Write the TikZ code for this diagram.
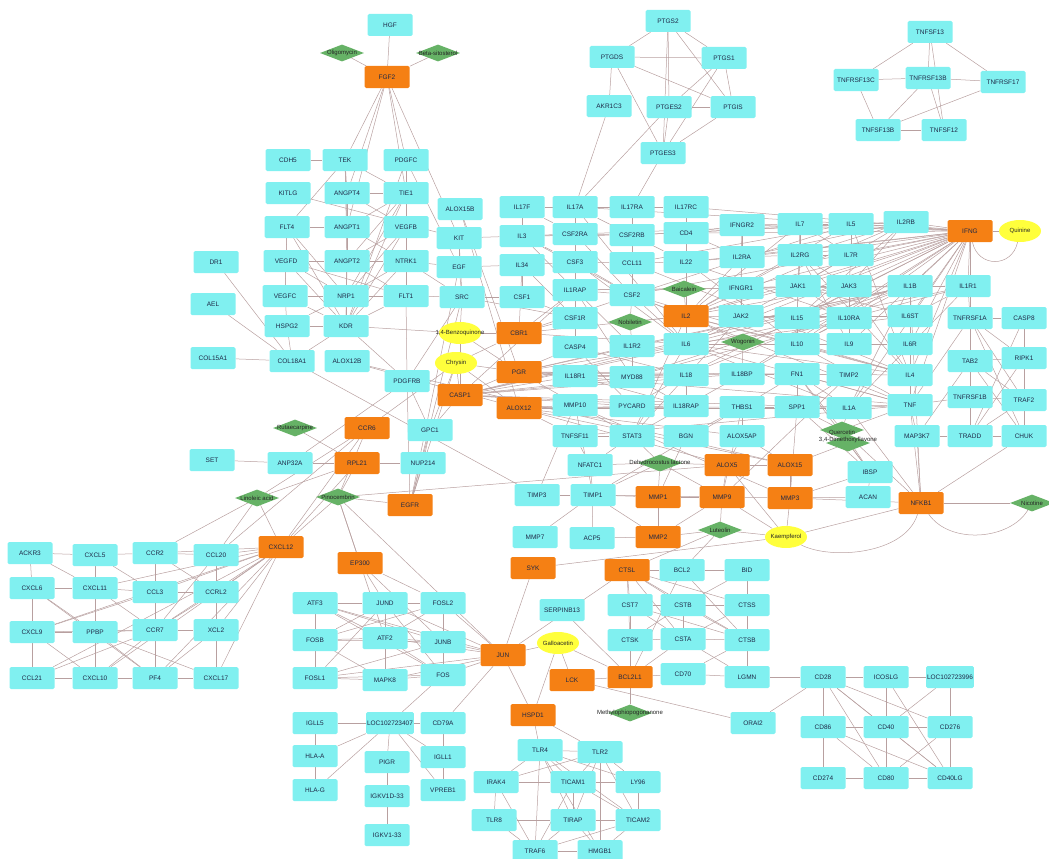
\documentclass[tikz,border=0pt]{standalone}
\usepackage{fontspec}
\setmainfont{Liberation Sans}
\usetikzlibrary{shapes.geometric}
\pgfdeclarelayer{bg}
\pgfsetlayers{bg,main}
\definecolor{cyn}{RGB}{128,240,240}
\definecolor{org}{RGB}{245,128,20}
\definecolor{grn}{RGB}{102,178,102}
\definecolor{yel}{RGB}{255,255,60}
\definecolor{edg}{RGB}{184,160,160}
\definecolor{txt}{RGB}{30,40,70}
\tikzset{
 cy/.style={rectangle,rounded corners=1.5pt,fill=cyn,minimum width=45pt,minimum height=22pt,inner sep=1pt,font=\fontsize{6.5}{7}\selectfont,text=txt},
 og/.style={cy,fill=org},
 dia/.style={diamond,fill=grn,minimum width=44pt,minimum height=17pt,inner sep=0pt},
 ell/.style={ellipse,fill=yel,minimum width=42pt,minimum height=22pt,inner sep=0pt},
 lab/.style={font=\fontsize{6}{7}\selectfont,text=black!85,inner sep=0pt},
 edge/.style={draw=edg,line width=0.5pt}
}
\begin{document}
\begin{tikzpicture}[x=1pt,y=-1pt]
\useasboundingbox (0,0) rectangle (1049,859);
% ---------- top ----------
\node[cy] (HGF) at (390,25) {HGF};
\node[dia] (Oligo) at (342,53) {};
\node[dia] (Betas) at (438,53) {};
\node[og] (FGF2) at (387,77) {FGF2};
\node[cy] (PTGS2) at (668,21) {PTGS2};
\node[cy] (PTGDS) at (612,57) {PTGDS};
\node[cy] (PTGS1) at (724,58) {PTGS1};
\node[cy] (AKR1C3) at (609,106) {AKR1C3};
\node[cy] (PTGES2) at (669,107) {PTGES2};
\node[cy] (PTGIS) at (733,107) {PTGIS};
\node[cy] (PTGES3) at (663,153) {PTGES3};
\node[cy] (TNFSF13) at (930,32) {TNFSF13};
\node[cy] (TNFRSF13C) at (856,80) {TNFRSF13C};
\node[cy] (TNFRSF13B) at (928,78) {TNFRSF13B};
\node[cy] (TNFRSF17) at (1003,82) {TNFRSF17};
\node[cy] (TNFSF13B) at (878,130) {TNFSF13B};
\node[cy] (TNFSF12) at (944,130) {TNFSF12};
% ---------- left angiogenesis ----------
\node[cy] (CDH5) at (288,160) {CDH5};
\node[cy] (TEK) at (345,160) {TEK};
\node[cy] (PDGFC) at (406,160) {PDGFC};
\node[cy] (KITLG) at (288,193) {KITLG};
\node[cy] (ANGPT4) at (347,193) {ANGPT4};
\node[cy] (TIE1) at (406,193) {TIE1};
\node[cy] (FLT4) at (287,227) {FLT4};
\node[cy] (ANGPT1) at (347,227) {ANGPT1};
\node[cy] (VEGFB) at (406,227) {VEGFB};
\node[cy] (VEGFD) at (286,261) {VEGFD};
\node[cy] (ANGPT2) at (347,261) {ANGPT2};
\node[cy] (NTRK1) at (406,261) {NTRK1};
\node[cy] (VEGFC) at (285,296) {VEGFC};
\node[cy] (NRP1) at (346,296) {NRP1};
\node[cy] (FLT1) at (406,296) {FLT1};
\node[cy] (HSPG2) at (287,326) {HSPG2};
\node[cy] (KDR) at (346,326) {KDR};
\node[cy] (DR1) at (216,262) {DR1};
\node[cy] (AEL) at (213,304) {AEL};
\node[cy] (COL15A1) at (213,358) {COL15A1};
\node[cy] (COL18A1) at (292,361) {COL18A1};
\node[cy] (ALOX12B) at (347,361) {ALOX12B};
\node[cy] (PDGFRB) at (407,381) {PDGFRB};
% ---------- middle-left columns ----------
\node[cy] (ALOX15B) at (460,209) {ALOX15B};
\node[cy] (KIT) at (459,238) {KIT};
\node[cy] (EGF) at (459,267) {EGF};
\node[cy] (SRC) at (462,297) {SRC};
\node[ell] (Benzo) at (460,333) {};
\node[ell] (Chrysin) at (456,363) {};
\node[og] (CASP1) at (460,395) {CASP1};
\node[cy] (IL17F) at (522,207) {IL17F};
\node[cy] (IL3) at (522,236) {IL3};
\node[cy] (IL34) at (522,265) {IL34};
\node[cy] (CSF1) at (522,297) {CSF1};
\node[og] (CBR1) at (519,333) {CBR1};
\node[og] (PGR) at (519,372) {PGR};
\node[og] (ALOX12) at (519,408) {ALOX12};
% ---------- big cluster ----------
\node[cy] (IL17A) at (575,207) {IL17A};
\node[cy] (CSF2RA) at (575,234) {CSF2RA};
\node[cy] (CSF3) at (575,262) {CSF3};
\node[cy] (IL1RAP) at (575,290) {IL1RAP};
\node[cy] (CSF1R) at (575,318) {CSF1R};
\node[cy] (CASP4) at (575,347) {CASP4};
\node[cy] (IL18R1) at (575,376) {IL18R1};
\node[cy] (MMP10) at (575,405) {MMP10};
\node[cy] (TNFSF11) at (575,436) {TNFSF11};
\node[cy] (IL17RA) at (632,207) {IL17RA};
\node[cy] (CSF2RB) at (632,235) {CSF2RB};
\node[cy] (CCL11) at (632,263) {CCL11};
\node[cy] (CSF2) at (632,295) {CSF2};
\node[dia] (Dc1) at (630,322) {};
\node[cy] (IL1R2) at (632,346) {IL1R2};
\node[cy] (MYD88) at (632,377) {MYD88};
\node[cy] (PYCARD) at (632,406) {PYCARD};
\node[cy] (STAT3) at (632,436) {STAT3};
\node[cy] (IL17RC) at (686,207) {IL17RC};
\node[cy] (CD4) at (686,233) {CD4};
\node[cy] (IL22) at (686,262) {IL22};
\node[dia] (Dc2) at (684,289) {};
\node[og] (IL2) at (686,316) {IL2};
\node[cy] (IL6) at (686,344) {IL6};
\node[cy] (IL18) at (686,375) {IL18};
\node[cy] (IL18RAP) at (686,406) {IL18RAP};
\node[cy] (BGN) at (686,436) {BGN};
\node[cy] (IFNGR2) at (742,225) {IFNGR2};
\node[cy] (IL2RA) at (742,257) {IL2RA};
\node[cy] (IFNGR1) at (741,288) {IFNGR1};
\node[cy] (JAK2) at (741,316) {JAK2};
\node[dia] (Dc3) at (743,342) {};
\node[cy] (IL18BP) at (742,374) {IL18BP};
\node[cy] (THBS1) at (742,407) {THBS1};
\node[cy] (ALOX5AP) at (742,436) {ALOX5AP};
\node[cy] (IL7) at (800,224) {IL7};
\node[cy] (IL2RG) at (800,255) {IL2RG};
\node[cy] (JAK1) at (798,286) {JAK1};
\node[cy] (IL15) at (797,318) {IL15};
\node[cy] (IL10) at (797,344) {IL10};
\node[cy] (FN1) at (797,374) {FN1};
\node[cy] (SPP1) at (797,407) {SPP1};
\node[cy] (IL5) at (851,224) {IL5};
\node[cy] (IL7R) at (851,255) {IL7R};
\node[cy] (JAK3) at (849,286) {JAK3};
\node[cy] (IL10RA) at (849,318) {IL10RA};
\node[cy] (IL9) at (849,344) {IL9};
\node[cy] (TIMP2) at (849,375) {TIMP2};
\node[cy] (IL1A) at (849,408) {IL1A};
\node[cy] (IL2RB) at (906,222) {IL2RB};
\node[cy] (IL1B) at (910,286) {IL1B};
\node[cy] (IL6ST) at (910,316) {IL6ST};
\node[cy] (IL6R) at (910,344) {IL6R};
\node[cy] (IL4) at (910,375) {IL4};
\node[cy] (TNF) at (910,405) {TNF};
\node[cy] (MAP3K7) at (917,436) {MAP3K7};
\node[og] (IFNG) at (970,231) {IFNG};
\node[cy] (IL1R1) at (968,286) {IL1R1};
\node[cy] (TNFRSF1A) at (970,318) {TNFRSF1A};
\node[cy] (TAB2) at (970,361) {TAB2};
\node[cy] (TNFRSF1B) at (970,397) {TNFRSF1B};
\node[cy] (TRADD) at (970,436) {TRADD};
\node[ell] (Quinine) at (1020,231) {};
\node[cy] (CASP8) at (1024,318) {CASP8};
\node[cy] (RIPK1) at (1024,358) {RIPK1};
\node[cy] (TRAF2) at (1024,400) {TRAF2};
\node[cy] (CHUK) at (1024,436) {CHUK};
\node[dia] (Querc) at (842,430) {};
\node[dia] (Dq2) at (848,443) {};
% ---------- MMP area ----------
\node[cy] (NFATC1) at (590,465) {NFATC1};
\node[dia] (Ddehy) at (660,463) {};
\node[og] (ALOX5) at (727,465) {ALOX5};
\node[og] (ALOX15) at (790,465) {ALOX15};
\node[cy] (IBSP) at (870,472) {IBSP};
\node[cy] (TIMP3) at (537,495) {TIMP3};
\node[cy] (TIMP1) at (593,495) {TIMP1};
\node[og] (MMP1) at (658,497) {MMP1};
\node[og] (MMP9) at (722,497) {MMP9};
\node[og] (MMP3) at (790,498) {MMP3};
\node[cy] (ACAN) at (868,497) {ACAN};
\node[og] (NFKB1) at (921,503) {NFKB1};
\node[dia] (Dnic) at (1032,503) {};
\node[cy] (MMP7) at (535,537) {MMP7};
\node[cy] (ACP5) at (592,538) {ACP5};
\node[og] (MMP2) at (658,537) {MMP2};
\node[dia] (Dlut) at (720,530) {};
\node[ell] (Kaemp) at (786,537) {};
% ---------- cathepsins ----------
\node[og] (SYK) at (533,568) {SYK};
\node[og] (CTSL) at (627,570) {CTSL};
\node[cy] (BCL2) at (682,570) {BCL2};
\node[cy] (BID) at (747,570) {BID};
\node[cy] (SERPINB13) at (562,610) {SERPINB13};
\node[cy] (CST7) at (630,605) {CST7};
\node[cy] (CSTB) at (683,605) {CSTB};
\node[cy] (CTSS) at (747,605) {CTSS};
\node[ell] (Gallo) at (558,643) {};
\node[cy] (CTSK) at (630,640) {CTSK};
\node[cy] (CSTA) at (683,639) {CSTA};
\node[cy] (CTSB) at (747,640) {CTSB};
\node[og] (LCK) at (572,680) {LCK};
\node[og] (BCL2L1) at (630,677) {BCL2L1};
\node[cy] (CD70) at (683,674) {CD70};
\node[cy] (LGMN) at (747,677) {LGMN};
\node[og] (HSPD1) at (533,715) {HSPD1};
\node[dia] (Dmeth) at (630,713) {};
\node[cy] (ORAI2) at (753,723) {ORAI2};
\node[cy] (TLR4) at (540,750) {TLR4};
\node[cy] (TLR2) at (600,752) {TLR2};
\node[cy] (IRAK4) at (496,782) {IRAK4};
\node[cy] (TICAM1) at (573,782) {TICAM1};
\node[cy] (LY96) at (638,782) {LY96};
\node[cy] (TLR8) at (494,820) {TLR8};
\node[cy] (TIRAP) at (573,820) {TIRAP};
\node[cy] (TICAM2) at (638,820) {TICAM2};
\node[cy] (TRAF6) at (535,851) {TRAF6};
\node[cy] (HMGB1) at (600,851) {HMGB1};
% ---------- AP-1 and Ig ----------
\node[og] (JUN) at (503,655) {JUN};
\node[og] (EP300) at (360,563) {EP300};
\node[cy] (ATF3) at (315,603) {ATF3};
\node[cy] (JUND) at (385,603) {JUND};
\node[cy] (FOSL2) at (443,603) {FOSL2};
\node[cy] (FOSB) at (315,640) {FOSB};
\node[cy] (ATF2) at (385,638) {ATF2};
\node[cy] (JUNB) at (443,642) {JUNB};
\node[cy] (FOSL1) at (315,678) {FOSL1};
\node[cy] (MAPK8) at (385,680) {MAPK8};
\node[cy] (FOS) at (443,675) {FOS};
\node[cy] (IGLL5) at (315,723) {IGLL5};
\node[cy] (LOCa) at (390,723) {LOC102723407};
\node[cy] (CD79A) at (443,723) {CD79A};
\node[cy] (HLAA) at (315,756) {HLA-A};
\node[cy] (PIGR) at (387,762) {PIGR};
\node[cy] (IGLL1) at (443,757) {IGLL1};
\node[cy] (HLAG) at (315,790) {HLA-G};
\node[cy] (IGKV1D) at (387,796) {IGKV1D-33};
\node[cy] (VPREB1) at (443,790) {VPREB1};
\node[cy] (IGKV1) at (387,835) {IGKV1-33};
% ---------- CD cluster ----------
\node[cy] (CD28) at (823,677) {CD28};
\node[cy] (ICOSLG) at (886,677) {ICOSLG};
\node[cy] (LOCb) at (950,677) {LOC102723996};
\node[cy] (CD86) at (823,727) {CD86};
\node[cy] (CD40) at (886,727) {CD40};
\node[cy] (CD276) at (950,727) {CD276};
\node[cy] (CD274) at (823,778) {CD274};
\node[cy] (CD80) at (886,778) {CD80};
\node[cy] (CD40LG) at (950,778) {CD40LG};
% ---------- chemokines ----------
\node[cy] (ACKR3) at (30,553) {ACKR3};
\node[cy] (CXCL5) at (95,555) {CXCL5};
\node[cy] (CCR2) at (155,553) {CCR2};
\node[cy] (CCL20) at (216,555) {CCL20};
\node[og] (CXCL12) at (281,547) {CXCL12};
\node[cy] (CXCL6) at (32,588) {CXCL6};
\node[cy] (CXCL11) at (95,588) {CXCL11};
\node[cy] (CCL3) at (155,592) {CCL3};
\node[cy] (CCRL2) at (216,592) {CCRL2};
\node[cy] (CXCL9) at (32,632) {CXCL9};
\node[cy] (PPBP) at (95,632) {PPBP};
\node[cy] (CCR7) at (155,630) {CCR7};
\node[cy] (XCL2) at (216,630) {XCL2};
\node[cy] (CCL21) at (32,678) {CCL21};
\node[cy] (CXCL10) at (95,678) {CXCL10};
\node[cy] (PF4) at (155,678) {PF4};
\node[cy] (CXCL17) at (216,678) {CXCL17};
% ---------- left middle ----------
\node[dia] (Drut) at (295,428) {};
\node[og] (CCR6) at (367,428) {CCR6};
\node[cy] (GPC1) at (430,430) {GPC1};
\node[cy] (SET) at (212,460) {SET};
\node[cy] (ANP32A) at (290,463) {ANP32A};
\node[og] (RPL21) at (357,463) {RPL21};
\node[cy] (NUP214) at (423,463) {NUP214};
\node[dia] (Dlin) at (257,498) {};
\node[dia] (Dpin) at (338,497) {};
\node[og] (EGFR) at (410,505) {EGFR};
% ---------- labels on diamonds / ellipses ----------
\node[lab] at (Oligo) {Oligomycin};
\node[lab] at (Betas) {Beta-sitosterol};
\node[lab] at (Benzo) {1,4-Benzoquinone};
\node[lab] at (Chrysin) {Chrysin};
\node[lab] at (Quinine) {Quinine};
\node[lab] at (Dc1) {Nobiletin};
\node[lab] at (Dc2) {Baicalein};
\node[lab] at (Dc3) {Wogonin};
\node[lab] at ([yshift=-3pt]Querc) {Quercetin};
\node[lab] at ([yshift=3pt]Dq2) {3,4-Dimethoxyflavone};
\node[lab] at (Ddehy) {Dehydrocostus lactone};
\node[lab] at (Dnic) {Nicotine};
\node[lab] at (Dlut) {Luteolin};
\node[lab] at (Kaemp) {Kaempferol};
\node[lab] at (Gallo) {Galloacetin};
\node[lab] at (Dmeth) {Methylophiopogonanone};
\node[lab] at (Drut) {Rutaecarpine};
\node[lab] at (Dlin) {Linoleic acid};
\node[lab] at (Dpin) {Pinocembrin};
% ---------- edges ----------
\begin{pgfonlayer}{bg}
\foreach \a/\b in {FGF2/HGF,FGF2/Oligo,FGF2/Betas,FGF2/TEK,FGF2/ANGPT4,FGF2/TIE1,FGF2/PDGFC,FGF2/KIT,FGF2/ANGPT1,
PTGS2/PTGDS,PTGS2/PTGS1,PTGS2/PTGES2,PTGS2/PTGIS,PTGS2/PTGES3,PTGDS/PTGS1,PTGDS/AKR1C3,PTGDS/PTGES3,PTGDS/PTGIS,PTGS1/PTGES2,PTGS1/PTGIS,PTGS1/PTGES3,PTGES2/PTGIS,PTGES2/PTGES3,PTGIS/PTGES3,AKR1C3/IL17A,PTGES2/IL17A,PTGES3/IL17RA,
TNFSF13/TNFRSF13C,TNFSF13/TNFRSF13B,TNFSF13/TNFRSF17,TNFSF13/TNFSF12,TNFRSF13C/TNFRSF13B,TNFRSF13B/TNFRSF17,TNFRSF13C/TNFSF13B,TNFRSF13B/TNFSF13B,TNFRSF17/TNFSF13B,TNFSF13B/TNFSF12,TNFRSF13B/TNFSF12,
CDH5/TEK,TEK/ANGPT4,TEK/ANGPT1,TEK/FLT4,TEK/ANGPT2,TEK/TIE1,PDGFC/TIE1,PDGFC/VEGFB,PDGFC/KDR,PDGFC/EGF,ANGPT4/TIE1,ANGPT4/ANGPT1,ANGPT4/ANGPT2,ANGPT4/VEGFB,TIE1/VEGFB,TIE1/ANGPT1,TIE1/ANGPT2,TIE1/NRP1,TIE1/KDR,ANGPT1/FLT4,ANGPT1/ANGPT2,ANGPT1/KDR,ANGPT1/NTRK1,VEGFB/NTRK1,VEGFB/FLT1,VEGFB/NRP1,VEGFB/KDR,VEGFB/ANGPT2,FLT4/VEGFD,FLT4/VEGFC,FLT4/KDR,FLT4/NRP1,VEGFD/ANGPT2,VEGFD/KDR,VEGFD/NRP1,VEGFD/VEGFC,VEGFD/FLT1,ANGPT2/NRP1,ANGPT2/KDR,ANGPT2/NTRK1,ANGPT2/FLT1,NTRK1/FLT1,NTRK1/NRP1,NTRK1/KDR,NTRK1/EGF,NTRK1/SRC,VEGFC/NRP1,VEGFC/KDR,VEGFC/HSPG2,NRP1/FLT1,NRP1/KDR,NRP1/HSPG2,FLT1/KDR,FLT1/PDGFRB,FLT1/SRC,HSPG2/KDR,HSPG2/COL18A1,KDR/COL18A1,KDR/PDGFRB,KDR/Benzo,DR1/COL18A1,AEL/COL18A1,COL15A1/COL18A1,COL18A1/TIMP3,ALOX12B/ALOX12,ALOX12B/ALOX15,PDGFRB/EGFR,PDGFRB/ANP32A,PDGFRB/SRC,PDGFRB/GPC1,KITLG/KIT}
  \draw[edge] (\a) -- (\b);
\foreach \a/\b in {ALOX15B/ALOX12,ALOX15B/PGR,KIT/EGF,KIT/SRC,KIT/IL3,EGF/SRC,EGF/IL34,EGF/EGFR,SRC/CSF1,SRC/Benzo,SRC/EGFR,SRC/CSF1R,Benzo/CBR1,Benzo/PGR,Benzo/CASP1,Chrysin/CASP1,Chrysin/PGR,Chrysin/CBR1,Chrysin/ALOX12,Chrysin/GPC1,Chrysin/EGFR,Chrysin/CCR6,CASP1/GPC1,
CASP1/CASP4,CASP1/IL18,CASP1/IL1B,CASP1/PYCARD,CASP1/IL18R1,CASP1/MYD88,CASP1/IL1RAP,CASP1/IL18BP,CASP1/IL1R1,CASP1/IL1A,CASP1/IL6,CASP1/IL18RAP,
CBR1/CSF1R,CBR1/CSF2,CBR1/IL34,CBR1/IL1RAP,CBR1/IL6,CBR1/IL2,
PGR/IL18R1,PGR/IL1R2,PGR/IL6,PGR/IL1B,PGR/MYD88,PGR/IL18,PGR/TNF,PGR/IL4,PGR/STAT3,
ALOX12/ALOX5AP,ALOX12/ALOX15,ALOX12/ALOX5,ALOX12/MMP10,ALOX12/TNFSF11,ALOX12/IL18RAP,ALOX12/THBS1,ALOX12/IL1A}
  \draw[edge] (\a) -- (\b);
\foreach \a/\b in {IL17F/IL17A,IL17F/IL17RA,IL17A/IL17RA,IL17RA/IL17RC,IL17A/IL17RC,IL17A/CSF2RA,IL17A/CSF3,IL17A/IL6,IL17A/IL22,IL17A/IFNG,IL17RA/CSF2RB,IL17RC/CD4,IL17F/IL3,IL17F/CSF2RA,CSF2RA/CSF2RB,CSF2RA/CSF2,CSF2RA/CSF3,CSF2RA/IL3,CSF2RB/IL3,CSF2RB/CSF2,CSF2RB/IL5,CSF2RB/IL2RB,CSF3/CCL11,CSF3/CSF1R,CSF3/IL6,CSF3/CSF2,CSF3/IL34,CSF1/CSF1R,CSF1/IL34,IL34/CSF1R,IL3/IL5,IL3/CSF2,IL3/CSF3,IL3/IL1RAP,CD4/IL2,CD4/IFNG,CD4/IL2RA,CD4/IL22,CD4/IFNGR2,CCL11/IL4,CCL11/IL5,CCL11/IL22,CCL11/CSF2,IL22/IL10RA,IL22/IL6,IL22/IFNG,IL22/IL2RA,IL22/IL10,CSF2/IL1RAP,CSF2/IL2,CSF2/Dc1,CSF2/IL4,CSF2/IL5,CSF2/IL6,CSF2/IFNG,CSF2/TNF,IL1RAP/IL1R2,IL1RAP/CSF1R,IL1RAP/IL1B,IL1RAP/IL1R1,IL1RAP/MYD88,CSF1R/CASP4,
IFNGR2/IFNGR1,IFNGR2/IFNG,IFNGR2/JAK2,IFNGR2/IL2RA,IFNGR1/JAK1,IFNGR1/JAK2,IFNGR1/IFNG,IFNGR2/IL7,
IL7/IL2RG,IL7/IL7R,IL7/IL5,IL5/IL2RB,IL5/IL7R,IL2RB/IL2RA,IL2RB/IL2RG,IL2RB/JAK1,IL2RB/JAK3,IL2RA/IL2RG,IL2RG/IL7R,IL2RG/JAK1,IL2RG/JAK3,IL2RG/IL15,IL2RG/IL4,IL2RG/IL9,IL7R/JAK1,IL7R/JAK3,IL7/JAK1,IL2RB/IL15,
JAK1/JAK2,JAK1/JAK3,JAK1/IL6ST,JAK1/IL10RA,JAK2/IL6,JAK2/IL6ST,JAK2/STAT3,JAK3/IL15,JAK3/IL4,JAK3/IL9,JAK1/IL15,JAK2/IL10RA}
  \draw[edge] (\a) -- (\b);
\foreach \a/\b in {IL1B/IL1R1,IL1B/IL1R2,IL1B/TNF,IL1B/IL6,IL1B/IL18,IL1B/IL1A,IL1B/MYD88,IL1B/IL10,IL1B/IL4,IL1R1/IL1A,IL1R1/MYD88,IL1R1/TNFRSF1A,IL1R1/IL6ST,
IL6ST/IL6,IL6ST/IL6R,IL6/IL6R,IL6/TNF,IL6/IL10,IL6/STAT3,IL6/IL4,IL6/IL1A,IL10/IL10RA,IL10/STAT3,IL10/TNF,IL10/IL4,IL10/IL15,
IL18/IL18R1,IL18/IL18RAP,IL18/IL18BP,IL18/MYD88,IL18/IFNG,IL18/CASP4,IL18/PYCARD,IL18R1/IL18RAP,IL18R1/MYD88,IL18RAP/MYD88,PYCARD/CASP4,MYD88/IL1R2,
MMP10/TIMP1,MMP10/MMP3,MMP10/TIMP3,TNFSF11/NFATC1,TNFSF11/TNF,TNFSF11/STAT3,STAT3/NFATC1,STAT3/IL2,STAT3/Ddehy,BGN/MMP1,BGN/THBS1,
THBS1/SPP1,THBS1/FN1,THBS1/MMP9,THBS1/TIMP1,THBS1/ALOX5AP,ALOX5AP/ALOX5,ALOX5AP/ALOX15,FN1/SPP1,FN1/TIMP2,FN1/IBSP,FN1/IL1A,FN1/IL18BP,FN1/TNF,SPP1/IBSP,SPP1/MMP3,SPP1/TNF,SPP1/Querc,TIMP2/SPP1,TIMP2/MMP9,IL1A/TNF,IL1A/NFKB1,IL4/TNF,IL4/IL5,
TNF/TNFRSF1A,TNF/TNFRSF1B,TNF/MAP3K7,TNF/NFKB1,TNF/IFNG,
IL2/Dc2,IL2/Dc1,IL2/Dc3,IL2/IL4,IL2/IL6,IL2/IL10,IL2/IFNG,IL2/IL15,IL2/IL2RA,IL2/IL2RB,IL2/IL2RG,IL2/JAK1,IL2/JAK3,IL2/IL7,IL2/IL5,IL2/IL22,Dc3/IL18BP,Dc1/IL1R2,
IFNG/Quinine,IFNG/IL2RB,IFNG/IL7,IFNG/IL5,IFNG/IL7R,IFNG/JAK1,IFNG/JAK2,IFNG/JAK3,IFNG/IL1B,IFNG/IL10RA,IFNG/IL6ST,IFNG/IL10,IFNG/IL6R,IFNG/IL4,IFNG/IL6,IFNG/IL2RG,IFNG/IL15,IFNG/IL1R1,IFNG/IL9,IFNG/IL2RA,IFNG/TNFRSF1A,IFNG/IL17RC,IFNG/IL18BP,IFNG/IL1A,
TNFRSF1A/CASP8,TNFRSF1A/TAB2,TNFRSF1A/TNFRSF1B,TNFRSF1A/TRAF2,TNFRSF1A/RIPK1,TNFRSF1A/TRADD,TNFRSF1A/CHUK,CASP8/RIPK1,CASP8/TRADD,RIPK1/TRAF2,RIPK1/TRADD,RIPK1/TAB2,TAB2/TNFRSF1B,TAB2/TRAF2,TAB2/MAP3K7,TAB2/CHUK,TNFRSF1B/TRAF2,TNFRSF1B/TRADD,TRADD/CHUK,TRADD/MAP3K7,TRAF2/CHUK,TRAF2/TRADD,MAP3K7/NFKB1,CHUK/NFKB1,
Querc/IL1A,Querc/IBSP,Querc/FN1,Querc/NFKB1,Querc/TNF,Dq2/ALOX15,Dq2/IBSP}
  \draw[edge] (\a) -- (\b);
\foreach \a/\b in {NFKB1/Dnic,NFKB1/MMP3,NFKB1/IL1B,NFKB1/Kaemp,
MMP1/MMP9,MMP1/TIMP1,MMP1/MMP2,MMP1/Ddehy,MMP9/MMP3,MMP9/MMP2,MMP9/TIMP1,MMP9/ALOX5,MMP9/Dlut,MMP9/Ddehy,MMP3/ACAN,MMP3/IBSP,MMP3/ALOX15,MMP3/Kaemp,TIMP1/TIMP3,TIMP1/NFATC1,TIMP1/ACP5,TIMP1/MMP2,TIMP1/MMP7,ACP5/MMP2,MMP2/Dlut,Dlut/Kaemp,Kaemp/MMP9,Kaemp/ALOX5,NFATC1/Ddehy,Ddehy/ALOX5,Ddehy/TIMP1,ALOX5/ALOX15,IBSP/ACAN,
SYK/Kaemp,SYK/JUN,CTSL/CST7,CTSL/CSTB,CTSL/CTSK,CTSL/CSTA,CTSL/BCL2,CTSL/CTSS,CTSL/CTSB,CTSL/Dlut,CTSL/JUN,BCL2/BID,BCL2/BCL2L1,BCL2/CTSB,BCL2/Dlut,BID/CTSS,BID/CSTB,CST7/CTSK,CST7/CSTA,CST7/CTSB,CST7/CTSS,CSTB/CTSS,CSTB/CTSK,CSTB/CSTA,CSTB/CTSB,CTSS/CTSB,CTSS/CSTA,CTSK/CSTA,CTSK/BCL2L1,CSTA/CTSB,CSTA/BCL2L1,CSTA/LGMN,CTSB/LGMN,CTSB/CD70,CD70/LGMN,CD70/BCL2L1,CTSS/LGMN,LGMN/CD28,SERPINB13/BCL2L1,Gallo/LCK,Gallo/BCL2L1,Gallo/HSPD1,Gallo/JUN,LCK/BCL2L1,LCK/ORAI2,BCL2L1/Dmeth,HSPD1/TLR4,HSPD1/TLR2,HSPD1/JUN,ORAI2/CD28,
JUN/FOS,JUN/FOSL2,JUN/JUNB,JUN/JUND,JUN/ATF2,JUN/MAPK8,JUN/FOSL1,JUN/ATF3,JUN/CD79A,JUN/Dpin,
ATF3/JUND,ATF3/FOSB,ATF3/JUNB,ATF3/FOS,ATF3/ATF2,JUND/FOSL2,JUND/ATF2,JUND/FOSB,JUND/FOSL1,JUND/FOS,FOSL2/JUNB,FOSL2/ATF2,FOSL2/FOSB,FOSB/ATF2,FOSB/FOSL1,FOSB/JUNB,FOSB/MAPK8,ATF2/JUNB,ATF2/MAPK8,ATF2/FOS,JUNB/FOS,JUNB/FOSL1,FOSL1/MAPK8,FOSL1/FOS,MAPK8/FOS,EP300/JUND,EP300/ATF2,EP300/FOSL2,EP300/JUNB,EP300/Dpin,
FOS/LOCa,IGLL5/LOCa,IGLL5/HLAA,HLAA/HLAG,LOCa/HLAA,LOCa/HLAG,LOCa/PIGR,LOCa/IGLL1,LOCa/VPREB1,LOCa/CD79A,CD79A/IGLL1,IGLL1/VPREB1,PIGR/IGKV1D,IGKV1D/IGKV1}
  \draw[edge] (\a) -- (\b);
\foreach \a/\b in {TLR4/TLR2,TLR4/TICAM1,TLR4/TIRAP,TLR4/TRAF6,TLR4/LY96,TLR4/IRAK4,TLR4/TICAM2,TLR4/HMGB1,TLR2/TICAM1,TLR2/HMGB1,TLR2/LY96,TLR2/TIRAP,TLR2/TICAM2,TLR2/IRAK4,IRAK4/TLR8,IRAK4/TRAF6,IRAK4/TICAM1,TLR8/TRAF6,TLR8/TIRAP,TICAM1/TIRAP,TICAM1/TICAM2,TICAM1/LY96,TICAM1/TRAF6,TIRAP/TICAM2,TIRAP/TRAF6,TIRAP/HMGB1,TICAM2/HMGB1,TICAM2/TRAF6,TRAF6/HMGB1,LY96/TICAM2,
CD28/ICOSLG,ICOSLG/LOCb,CD28/CD86,CD28/CD40,CD28/CD276,CD28/CD80,CD28/CD40LG,CD86/CD40,CD86/CD274,CD86/CD80,CD86/CD40LG,CD40/CD276,CD40/CD80,CD40/CD40LG,ICOSLG/CD40,ICOSLG/CD40LG,LOCb/CD276,LOCb/CD40,CD276/CD40LG,CD276/CD80,CD274/CD80,CD80/CD40LG,
ACKR3/CXCL5,ACKR3/CXCL6,ACKR3/CXCL11,CXCL5/CCR2,CXCL5/CXCL11,CXCL5/CCL3,CCR2/CCL20,CCR2/CCL3,CCR2/CCRL2,CCR2/PF4,CCR2/CXCL12,CCL20/CXCL12,CCL20/CCRL2,CCL20/CCR7,CXCL6/CXCL11,CXCL6/CXCL9,CXCL6/PPBP,CXCL6/PF4,CXCL11/CCL3,CXCL11/PPBP,CXCL11/CXCL10,CXCL11/CCR7,CCL3/CCRL2,CCL3/CCR7,CCL3/PF4,CCL3/CXCL9,CCRL2/XCL2,CCRL2/CCR7,CXCL9/PPBP,CXCL9/CCL21,CXCL9/CXCL10,CXCL9/CCR7,PPBP/CCR7,PPBP/PF4,PPBP/CXCL10,PPBP/CXCL17,CCR7/XCL2,CCR7/PF4,CCR7/CCL21,CCR7/CXCL10,XCL2/CXCL17,XCL2/PF4,CCL21/CXCL10,CXCL10/PF4,PF4/CXCL17,CXCL12/CCRL2,CXCL12/CCR7,CXCL12/XCL2,CXCL12/CXCL17,CXCL12/PF4,CXCL12/CXCL10,CXCL12/CCL3,CXCL12/CXCL11,CXCL12/CCL21,CXCL12/CXCL9,
SET/ANP32A,ANP32A/RPL21,Drut/RPL21,RPL21/NUP214,NUP214/GPC1,NUP214/EGFR,GPC1/EGFR,CCR6/Dlin,CCR6/Dpin,CCR6/CCL20,Dlin/RPL21,Dlin/CXCL12,Dlin/CCR2,Dlin/CCL20,Dpin/EGFR,Dpin/RPL21,Dpin/CXCL12,Dpin/EP300,CXCL12/CCR6,CXCL12/RPL21,Dpin/ALOX5}
  \draw[edge] (\a) -- (\b);
\draw[edge] (IFNG) .. controls (978,268) and (1012,268) .. (Quinine);
\draw[edge] (NFKB1) .. controls (950,545) and (1010,540) .. (Dnic);
\draw[edge] (Kaemp) .. controls (830,560) and (905,555) .. (NFKB1);
\end{pgfonlayer}
\end{tikzpicture}
\end{document}
